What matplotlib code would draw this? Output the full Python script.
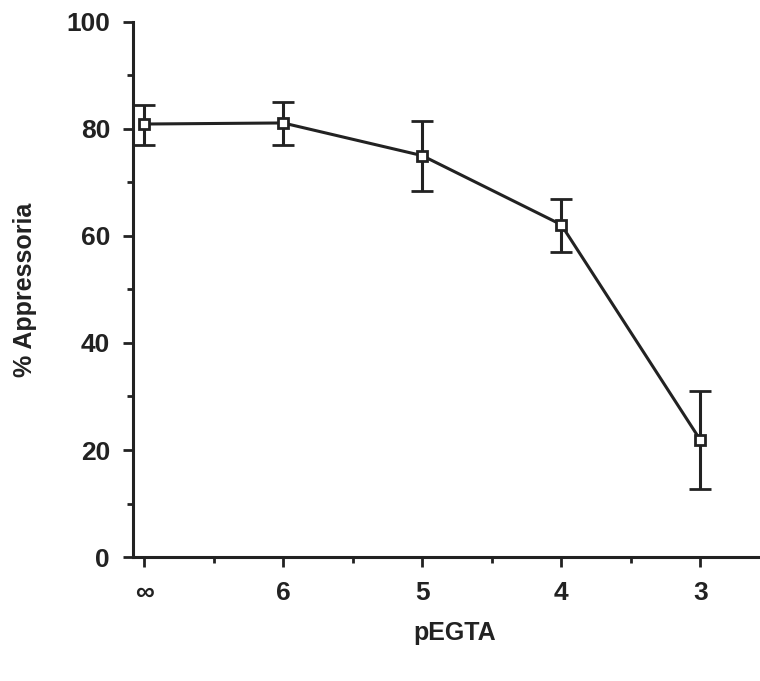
import matplotlib.pyplot as plt
from matplotlib.ticker import MultipleLocator

plt.rcParams['font.family'] = ['Liberation Sans', 'DejaVu Sans']
plt.rcParams['font.weight'] = 'bold'

# pEGTA levels and % appressoria (mean, lower / upper error bar ends)
labels = ['\u221e', '6', '5', '4', '3']
mean = [80.9, 81.1, 75.0, 62.1, 21.9]
lower = [77.0, 77.0, 68.4, 57.0, 12.7]
upper = [84.4, 85.1, 81.4, 66.9, 31.1]

x = list(range(len(labels)))
yerr = [[m - lo for m, lo in zip(mean, lower)],
        [up - m for m, up in zip(mean, upper)]]

ink = '#222222'
fig = plt.figure(figsize=(7.6, 6.81), dpi=100)
ax = fig.add_axes([0.175, 0.182, 0.825, 0.786])

ax.errorbar(x, mean, yerr=yerr, color=ink, lw=2.2, elinewidth=2.2,
            capsize=8, capthick=2.2, marker='s', markersize=7,
            markerfacecolor='white', markeredgecolor=ink, markeredgewidth=2)

ax.set_xlim(-0.08, 4.43)
ax.set_ylim(0, 100)
ax.set_xticks(x)
ax.set_xticklabels(labels)
ax.xaxis.set_minor_locator(MultipleLocator(0.5))
ax.yaxis.set_major_locator(MultipleLocator(20))
ax.yaxis.set_minor_locator(MultipleLocator(10))

for side in ['top', 'right']:
    ax.spines[side].set_visible(False)
for side in ['left', 'bottom']:
    ax.spines[side].set_linewidth(2.2)
    ax.spines[side].set_color(ink)

ax.tick_params(which='major', length=7, width=2, color=ink, labelsize=19,
               labelcolor=ink, pad=9.5)
ax.tick_params(which='minor', length=4, width=2, color=ink)
ax.tick_params(axis='x', which='major', pad=10)

ax.set_xlabel('pEGTA', fontsize=18, fontweight='bold', color=ink)
ax.set_ylabel('% Appressoria', fontsize=18, fontweight='bold', color=ink)
ax.xaxis.set_label_coords(0.513, -0.142)
ax.yaxis.set_label_coords(-0.172, 0.5)
ax.xaxis.label.set_va('center')
ax.yaxis.label.set_va('center')

plt.savefig('out.png', dpi=100)
